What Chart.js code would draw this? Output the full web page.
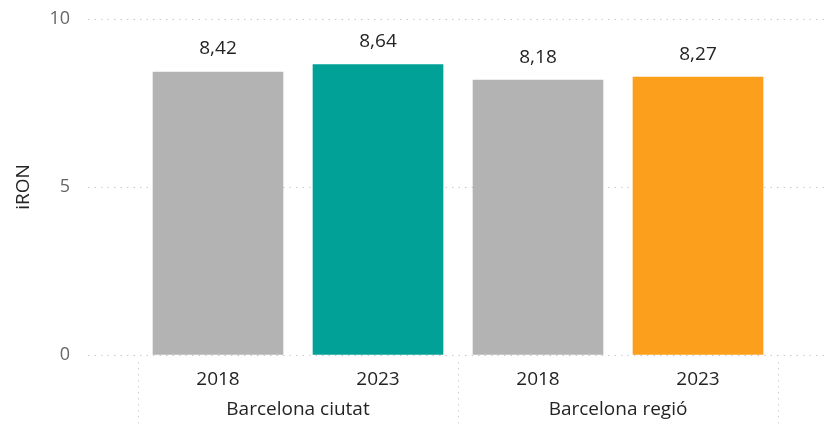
<!DOCTYPE html>
<html>
<head>
<meta charset="utf-8">
<script src="https://cdn.jsdelivr.net/npm/chart.js@4/dist/chart.umd.min.js"></script>
<style>
  html, body { margin: 0; padding: 0; background: #fff; }
  #wrap { width: 828px; height: 423px; position: relative; }
</style>
</head>
<body>
<div id="wrap"><canvas id="chartIron"></canvas></div>
<script>
// data
const years = ['2018', '2023', '2018', '2023'];
const groups = ['Barcelona ciutat', 'Barcelona regió'];
const values = [8.42, 8.64, 8.18, 8.27];
const barColors = ['#b3b3b3', '#01a198', '#b3b3b3', '#fb9f1d'];
const yTicks = [0, 5, 10];

const FONT = "'Open Sans', 'Noto Sans', sans-serif";

function fmt(v) {
  return v.toFixed(2).replace('.', ',');
}

// numbers above the bars
const valueLabels = {
  id: 'valueLabels',
  afterDatasetsDraw(chart) {
    let ctx = chart.ctx;
    let meta = chart.getDatasetMeta(0);
    ctx.save();
    ctx.font = '19px ' + FONT;
    ctx.fillStyle = '#252423';
    ctx.textAlign = 'center';
    ctx.textBaseline = 'middle';
    meta.data.forEach(function(bar, i) {
      ctx.fillText(fmt(values[i]), bar.x, bar.y - 23);
    });
    ctx.restore();
  }
};

// second level of the x axis: group names + dotted separators
const groupAxis = {
  id: 'groupAxis',
  afterDraw(chart) {
    let ctx = chart.ctx;
    let x = chart.scales.x;
    let top = chart.chartArea.bottom + 7;
    ctx.save();
    ctx.strokeStyle = '#cfcfcf';
    ctx.lineWidth = 1;
    ctx.setLineDash([1.5, 4.5]);
    [-0.5, 1.5, 3.5].forEach(function(v) {
      let px = Math.round(x.getPixelForValue(v)) + 0.5;
      ctx.beginPath();
      ctx.moveTo(px, top);
      ctx.lineTo(px, chart.height);
      ctx.stroke();
    });
    ctx.setLineDash([]);
    ctx.font = '19px ' + FONT;
    ctx.fillStyle = '#252423';
    ctx.textAlign = 'center';
    ctx.textBaseline = 'middle';
    groups.forEach(function(g, i) {
      ctx.fillText(g, x.getPixelForValue(i * 2 + 0.5), 410);
    });
    ctx.restore();
  }
};

let points = values.map(function(v, i) { return { x: i, y: v }; });

var ctx = document.getElementById('chartIron').getContext('2d');
var myChart = new Chart(ctx, {
  type: 'bar',
  data: {
    datasets: [{
      data: points,
      backgroundColor: barColors,
      borderWidth: 0,
      barThickness: 130
    }]
  },
  options: {
    responsive: true,
    maintainAspectRatio: false,
    animation: false,
    layout: { padding: { top: 19, right: 0, left: 0, bottom: 0 } },
    plugins: {
      legend: { display: false },
      tooltip: { enabled: false }
    },
    scales: {
      x: {
        type: 'linear',
        offset: false,
        min: -0.8125,
        max: 3.8125,
        grid: { display: false },
        border: { display: false },
        afterBuildTicks: function(scale) {
          scale.ticks = years.map(function(y, i) { return { value: i }; });
        },
        afterFit: function(scale) { scale.height = 68; },
        ticks: {
          autoSkip: false,
          maxRotation: 0,
          padding: 5,
          color: '#252423',
          font: { family: FONT, size: 19 },
          callback: function(value, index) { return years[index]; }
        }
      },
      y: {
        min: 0,
        max: 10,
        afterBuildTicks: function(scale) {
          scale.ticks = yTicks.map(function(v) { return { value: v }; });
        },
        afterFit: function(scale) { scale.width = 88; },
        border: { display: false, dash: [1.5, 5] },
        grid: {
          color: '#c8c8c8',
          lineWidth: 1,
          drawTicks: true,
          tickLength: 18,
          tickColor: 'rgba(0,0,0,0)'
        },
        ticks: {
          padding: 0,
          color: '#666666',
          font: { family: FONT, size: 18 }
        },
        title: {
          display: true,
          text: 'iRON',
          color: '#252423',
          font: { family: FONT, size: 19 },
          padding: { top: 12, bottom: 0 }
        }
      }
    }
  },
  plugins: [valueLabels, groupAxis]
});
</script>
</body>
</html>
